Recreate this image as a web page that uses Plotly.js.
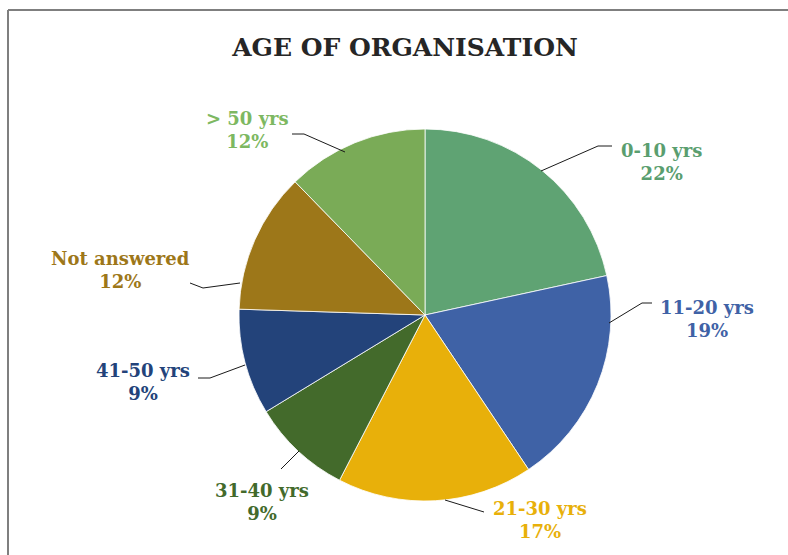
<!DOCTYPE html>
<html>
<head>
<meta charset="utf-8">
<script src="https://cdn.plot.ly/plotly-3.0.1.min.js"></script>
<style>html,body{margin:0;padding:0;background:#fff;}#chart{width:788px;height:555px;}</style>
</head>
<body>
<div id="chart"></div>
<script>
// Data
const categories = ["0-10 yrs", "11-20 yrs", "21-30 yrs", "31-40 yrs", "41-50 yrs", "Not answered", "> 50 yrs"];
const shares = [21.6, 19.0, 17.0, 8.7, 9.2, 12.2, 12.3];
const sliceColors = ["#5FA373", "#3F62A6", "#E8B00A", "#436A2B", "#23437A", "#9D7719", "#7AAB57"];
const labelColors = ["#5A9E6F", "#3F62A6", "#E8B00A", "#436A2B", "#23437A", "#9D7719", "#7DB861"];
const chartTitle = "AGE OF ORGANISATION";

// Layout helpers (pixel geometry of the figure)
const W = 788, H = 555;
const cx = 425, cy = 315, R = 186;
const px = x => x / W;
const py = y => 1 - y / H;

// label placement (text centre) and leader-line path in pixels
const labelPos = [[661, 162], [707, 319], [540, 520], [262, 502], [143, 382], [120, 270], [247, 130]];
const leaderPaths = [
  [[541, 171], [598, 146], [612, 146]],
  [[609, 323], [642, 303], [652, 303]],
  [[445, 500], [484, 512]],
  [[299, 451], [281, 469]],
  [[245, 365], [210, 378], [198, 378]],
  [[240, 283], [203, 288], [190, 283]],
  [[345, 152], [304, 134], [292, 134]]
];

const total = shares.reduce((a, b) => a + b, 0);

const trace = {
  type: "pie",
  labels: categories,
  values: shares,
  sort: false,
  direction: "clockwise",
  rotation: 0,
  textinfo: "none",
  hoverinfo: "label+percent",
  marker: { colors: sliceColors, line: { color: "#ffffff", width: 0.8 } },
  domain: { x: [px(cx - R), px(cx + R)], y: [py(cy + R), py(cy - R)] },
  showlegend: false
};

const annotations = categories.map((c, i) => ({
  xref: "paper", yref: "paper",
  x: px(labelPos[i][0]), y: py(labelPos[i][1]),
  xanchor: "center", yanchor: "middle",
  text: "<b>" + c + "</b><br><b>" + Math.round(100 * shares[i] / total) + "%</b>",
  showarrow: false,
  align: "center",
  font: { family: "DejaVu Serif", size: 18, color: labelColors[i] }
}));

const shapes = leaderPaths.map(p => ({
  type: "path", xref: "paper", yref: "paper",
  path: p.map((pt, k) => (k ? "L" : "M") + px(pt[0]) + "," + py(pt[1])).join(" "),
  line: { color: "#1a1a1a", width: 1 }
}));
// chart frame (top and left edges visible)
shapes.push({ type: "line", xref: "paper", yref: "paper", x0: px(8), x1: 1, y0: py(10), y1: py(10), line: { color: "#7f7f7f", width: 2 } });
shapes.push({ type: "line", xref: "paper", yref: "paper", x0: px(8), x1: px(8), y0: py(10), y1: 0, line: { color: "#7f7f7f", width: 2 } });

const layout = {
  width: W, height: H,
  margin: { l: 0, r: 0, t: 0, b: 0 },
  paper_bgcolor: "#ffffff",
  title: {
    text: "<b>" + chartTitle + "</b>",
    x: px(405), y: py(47), xanchor: "center", yanchor: "middle",
    font: { family: "DejaVu Serif", size: 25, color: "#262626" }
  },
  annotations: annotations,
  shapes: shapes
};

Plotly.newPlot("chart", [trace], layout, { staticPlot: true, displayModeBar: false });
</script>
</body>
</html>
